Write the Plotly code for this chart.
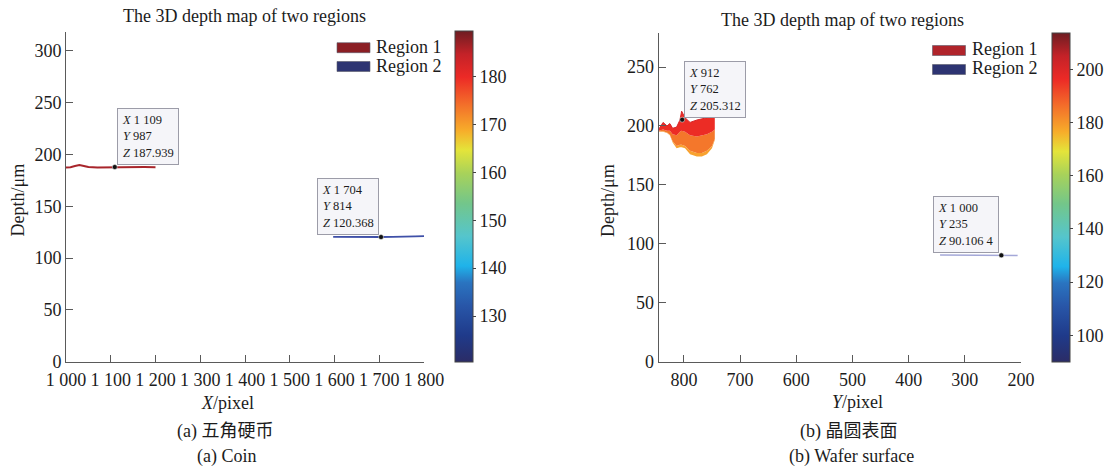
import plotly.graph_objects as go

# ---------------- data ----------------
# (a) Coin: side view of the two regions (X/pixel vs depth)
coin_r1_x = [1000, 1010, 1020, 1030, 1040, 1050, 1070, 1090, 1109, 1130, 1150, 1175, 1200]
coin_r1_z = [187.6, 187.8, 188.9, 189.8, 189.0, 187.9, 187.5, 187.7, 187.939, 187.8, 188.1, 187.9, 187.8]
coin_r2_x = [1597, 1620, 1650, 1680, 1704, 1730, 1760, 1780, 1800]
coin_r2_z = [120.6, 120.4, 120.5, 120.3, 120.368, 120.5, 120.4, 120.9, 121.2]
coin_tip_x = [1109, 1704]
coin_tip_z = [187.939, 120.368]
coin_tip_text = [["1 109", "987", "187.939"], ["1 704", "814", "120.368"]]

# (b) Wafer surface: side view (Y/pixel vs depth)
wafer_r1_y = [845, 842, 837, 830, 825, 820, 813, 807, 804, 798, 789, 777, 768, 759, 750, 745]
wafer_r1_top = [197, 199, 203, 200, 202, 198, 199, 205, 212.5, 207, 203, 205, 206, 207, 209, 207]
wafer_r1_mid = [196, 196.5, 197, 196, 196, 193, 192, 195, 196, 195, 192, 191, 192, 193, 195, 197]
wafer_r1_low = [195.5, 195.5, 195.5, 194.5, 192.5, 187, 183, 184, 184, 183, 179, 177, 177, 179, 183, 189]
wafer_r1_bot = [195, 195, 195, 194, 192, 186, 181, 182, 182, 181, 176, 174, 174, 176, 181, 188]
wafer_r2_y = [344, 320, 290, 260, 235, 220, 206]
wafer_r2_z = [90.4, 90.3, 90.2, 90.15, 90.1064, 90.1, 90.1]
wafer_tip_y = [803, 235]
wafer_tip_z = [205.312, 90.1064]
wafer_tip_text = [["912", "762", "205.312"], ["1 000", "235", "90.106 4"]]

region_names = ["Region 1", "Region 2"]
coin_xticks = [1000, 1100, 1200, 1300, 1400, 1500, 1600, 1700, 1800]
coin_xticktext = ["1 000", "1 100", "1 200", "1 300", "1 400", "1 500", "1 600", "1 700", "1 800"]
coin_yticks = [0, 50, 100, 150, 200, 250, 300]
wafer_xticks = [800, 700, 600, 500, 400, 300, 200]
wafer_yticks = [0, 50, 100, 150, 200, 250]
coin_cbar_ticks = [130, 140, 150, 160, 170, 180]
wafer_cbar_ticks = [100, 120, 140, 160, 180, 200]

# ---------------- style ----------------
W, H = 1112, 469
SERIF = "Liberation Serif, Times New Roman, Noto Sans CJK SC, serif"
TXT = "#1c1c1c"
AX = "#5a5a5a"

def px(v):
    return v / W

def py(v):
    return 1 - v / H

cscale = [[0.0, "#2b2c66"], [0.08, "#1f3a8a"], [0.17, "#2856a8"], [0.24, "#2a74c0"],
          [0.29, "#1fb3ea"], [0.38, "#55c5cc"], [0.48, "#73c68a"], [0.57, "#a8d25a"],
          [0.64, "#e4e43a"], [0.70, "#f7ac2a"], [0.78, "#f36d2a"], [0.86, "#ec2a26"],
          [0.93, "#c42228"], [1.0, "#6e1d22"]]

fig = go.Figure()

# ---- (a) Coin ----
fig.add_trace(go.Scatter(x=coin_r1_x, y=coin_r1_z, mode="lines+markers", name=region_names[0],
                         line=dict(color="#a8252b", width=2),
                         marker=dict(size=2, color=coin_r1_z, coloraxis="coloraxis", opacity=0),
                         showlegend=False, xaxis="x", yaxis="y"))
fig.add_trace(go.Scatter(x=coin_r2_x, y=coin_r2_z, mode="lines+markers", name=region_names[1],
                         line=dict(color="#3f50a8", width=1.8),
                         marker=dict(size=2, color=coin_r2_z, coloraxis="coloraxis", opacity=0),
                         showlegend=False, xaxis="x", yaxis="y"))
fig.add_trace(go.Scatter(x=coin_tip_x, y=coin_tip_z, mode="markers",
                         marker=dict(size=5, color="#111111", line=dict(color="#ffffff", width=0.5)),
                         showlegend=False, xaxis="x", yaxis="y"))

# ---- (b) Wafer surface ----
fig.add_trace(go.Scatter(x=wafer_r1_y, y=wafer_r1_bot, mode="lines", line=dict(width=0, color="#f7a02e"),
                         showlegend=False, xaxis="x2", yaxis="y2"))
fig.add_trace(go.Scatter(x=wafer_r1_y, y=wafer_r1_low, mode="lines", line=dict(width=0, color="#f7a02e"),
                         fill="tonexty", fillcolor="#f8a22f", showlegend=False, xaxis="x2", yaxis="y2"))
fig.add_trace(go.Scatter(x=wafer_r1_y, y=wafer_r1_mid, mode="lines", line=dict(width=0, color="#f4732b"),
                         fill="tonexty", fillcolor="#f4772b", showlegend=False, xaxis="x2", yaxis="y2"))
fig.add_trace(go.Scatter(x=wafer_r1_y, y=wafer_r1_top, mode="lines+markers", name=region_names[0],
                         line=dict(width=1, color="#d8262a"),
                         marker=dict(size=1, color=wafer_r1_top, coloraxis="coloraxis2", opacity=0),
                         fill="tonexty", fillcolor="#ec2c25", showlegend=False, xaxis="x2", yaxis="y2"))
fig.add_trace(go.Scatter(x=wafer_r2_y, y=wafer_r2_z, mode="lines+markers", name=region_names[1],
                         line=dict(color="#a4a8d8", width=1.5),
                         marker=dict(size=1, color=wafer_r2_z, coloraxis="coloraxis2", opacity=0),
                         showlegend=False, xaxis="x2", yaxis="y2"))
fig.add_trace(go.Scatter(x=wafer_tip_y, y=wafer_tip_z, mode="markers",
                         marker=dict(size=5, color="#111111", line=dict(color="#ffffff", width=0.5)),
                         showlegend=False, xaxis="x2", yaxis="y2"))

axis_common = dict(showgrid=False, zeroline=False, showline=True, linecolor=AX, linewidth=1,
                   ticks="inside", tickcolor=AX, ticklen=7, tickwidth=1,
                   tickfont=dict(family=SERIF, size=18, color=TXT), mirror=False)

fig.update_layout(
    width=W, height=H, margin=dict(l=0, r=0, t=0, b=0, autoexpand=False),
    paper_bgcolor="white", plot_bgcolor="white",
    font=dict(family=SERIF, size=18, color=TXT),
    showlegend=False,
    xaxis=dict(domain=[px(66), px(424)], range=[1000, 1800], tickvals=coin_xticks,
               ticktext=coin_xticktext, anchor="y", ticklabelstandoff=2, **axis_common),
    yaxis=dict(domain=[py(361.7), py(32)], range=[0, 318.3], tickvals=coin_yticks,
               anchor="x", **axis_common),
    xaxis2=dict(domain=[px(658.6), px(1021)], range=[845, 200], tickvals=wafer_xticks,
                anchor="y2", ticklabelstandoff=2, **axis_common),
    yaxis2=dict(domain=[py(361.5), py(33)], range=[0, 278.9], tickvals=wafer_yticks,
                anchor="x2", **axis_common),
    coloraxis=dict(colorscale=cscale, cmin=120.4, cmax=189.5,
                   colorbar=dict(x=px(455), xanchor="left", xpad=0, ypad=0,
                                 y=py(362), yanchor="bottom", len=331 / H, lenmode="fraction",
                                 thickness=18, thicknessmode="pixels",
                                 outlinewidth=1, outlinecolor="#444444",
                                 ticks="outside", ticklen=3, tickcolor="#444444",
                                 tickvals=coin_cbar_ticks,
                                 tickfont=dict(family=SERIF, size=18, color=TXT))),
    coloraxis2=dict(colorscale=cscale, cmin=90.1, cmax=213.8,
                    colorbar=dict(x=px(1052), xanchor="left", xpad=0, ypad=0,
                                  y=py(361.7), yanchor="bottom", len=328.7 / H, lenmode="fraction",
                                  thickness=18, thicknessmode="pixels",
                                  outlinewidth=1, outlinecolor="#444444",
                                  ticks="outside", ticklen=3, tickcolor="#444444",
                                  tickvals=wafer_cbar_ticks,
                                  tickfont=dict(family=SERIF, size=18, color=TXT))),
)

annotations = []
shapes = []

def tip(xref, yref, x, y, vals, side):
    txt = "<i>X</i> %s<br><i>Y</i> %s<br><i>Z</i> %s" % tuple(vals)
    annotations.append(dict(
        x=x, y=y, xref=xref, yref=yref, text=txt, showarrow=False, align="left",
        xanchor="left" if side == "right" else "right", yanchor="bottom",
        xshift=2 if side == "right" else -2, yshift=2,
        bgcolor="#f5f5f9", bordercolor="#9c9ca8", borderwidth=1, borderpad=4,
        font=dict(family=SERIF, size=12.5, color=TXT)))

tip("x", "y", coin_tip_x[0], coin_tip_z[0], coin_tip_text[0], "right")
tip("x", "y", coin_tip_x[1], coin_tip_z[1], coin_tip_text[1], "left")
tip("x2", "y2", wafer_tip_y[0], wafer_tip_z[0], wafer_tip_text[0], "right")
tip("x2", "y2", wafer_tip_y[1], wafer_tip_z[1], wafer_tip_text[1], "left")

def label(text, xc, yc, size=18, angle=0, xanchor="center"):
    annotations.append(dict(text=text, x=px(xc), y=py(yc), xref="paper", yref="paper",
                            showarrow=False, xanchor=xanchor, yanchor="middle",
                            textangle=angle, font=dict(family=SERIF, size=size, color=TXT)))

# legends (drawn as key boxes + labels)
def legend_item(x0, x1, yc, color, name):
    shapes.append(dict(type="rect", xref="paper", yref="paper",
                       x0=px(x0), x1=px(x1), y0=py(yc + 5), y1=py(yc - 5),
                       fillcolor=color, line=dict(color="#5a5a6a", width=0.6)))
    label(name, x1 + 4, yc - 1, xanchor="left")

legend_item(337, 370, 47.7, "#8b1e24", region_names[0])
legend_item(337, 370, 66.5, "#2d3472", region_names[1])
legend_item(932.5, 965.5, 50.5, "#b0242b", region_names[0])
legend_item(932.5, 965.5, 69.5, "#2d3472", region_names[1])

label("The 3D depth map of two regions", 244, 16)
label("The 3D depth map of two regions", 842, 20)
label("Depth/μm", 17.5, 200, angle=-90)
label("Depth/μm", 608, 201, angle=-90)
label("<i>X</i>/pixel", 227, 403)
label("<i>Y</i>/pixel", 857, 402)
label("(a) 五角硬币", 225, 431)
label("(a) Coin", 226, 456)
label("(b) 晶圆表面", 849, 431)
label("(b) Wafer surface", 851, 456)

fig.update_layout(annotations=annotations, shapes=shapes)

fig.write_html("out.html")
